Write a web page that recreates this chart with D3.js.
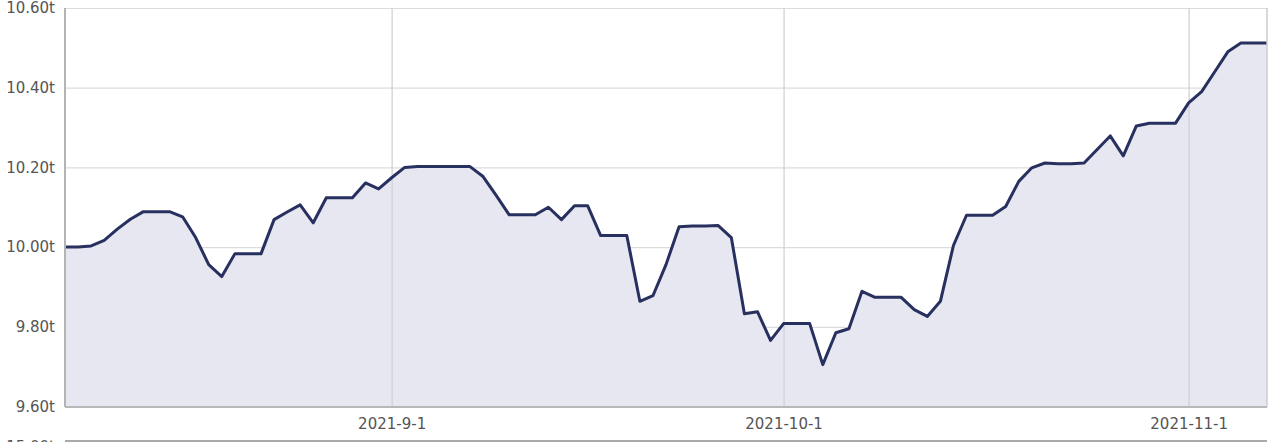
<!DOCTYPE html>
<html>
<head>
<meta charset="utf-8">
<script src="https://cdn.jsdelivr.net/npm/d3@7"></script>
<style>
  body { margin: 0; background: #fff; }
  svg { display: block; font-family: Verdana, "DejaVu Sans", sans-serif; }
</style>
</head>
<body>
<svg width="1280" height="442"></svg>
<script>
// daily values from 2021-8-7 to 2021-11-7
const startDay = '2021-08-07';
const endDay = '2021-11-08';
const values = [
  10.000, 10.000, 10.003, 10.017, 10.045, 10.070, 10.089, 10.089, 10.089, 10.076,
  10.024, 9.956, 9.926, 9.983, 9.983, 9.983, 10.069, 10.088, 10.106, 10.061,
  10.124, 10.124, 10.124, 10.161, 10.146, 10.174, 10.200, 10.202, 10.202, 10.202,
  10.202, 10.202, 10.177, 10.130, 10.081, 10.081, 10.081, 10.100, 10.069, 10.104,
  10.104, 10.029, 10.029, 10.029, 9.864, 9.878, 9.956, 10.051, 10.053, 10.053,
  10.054, 10.024, 9.833, 9.838, 9.766, 9.808, 9.808, 9.808, 9.705, 9.785,
  9.795, 9.889, 9.874, 9.874, 9.874, 9.843, 9.826, 9.864, 10.004, 10.080,
  10.080, 10.080, 10.102, 10.165, 10.199, 10.211, 10.209, 10.209, 10.211, 10.245,
  10.279, 10.229, 10.304, 10.311, 10.311, 10.311, 10.362, 10.390, 10.440, 10.490,
  10.512, 10.512, 10.512
];
const yTicks = [9.6, 9.8, 10.0, 10.2, 10.4, 10.6];
const xTicks = ['2021-09-01', '2021-10-01', '2021-11-01'];
const nextChartLabel = '15.00t';

const parse = d3.timeParse('%Y-%m-%d');
const days = d3.timeDay.range(parse(startDay), parse(endDay));
const data = days.map((d, i) => ({ date: d, value: values[i] }));

const svg = d3.select('svg');
const margin = { top: 8, right: 13, bottom: 35, left: 65 };
const width = +svg.attr('width') - margin.left - margin.right;
const height = +svg.attr('height') - margin.top - margin.bottom;

const x = d3.scaleTime().domain(d3.extent(days)).range([0, width]);
const y = d3.scaleLinear().domain([9.6, 10.6]).range([height - 0.5, 0]);

const g = svg.append('g').attr('transform', `translate(${margin.left},${margin.top})`);

// horizontal grid
g.append('g')
  .call(d3.axisLeft(y).tickValues(yTicks).tickSize(-width).tickFormat(''))
  .call(a => a.select('.domain').remove())
  .call(a => a.selectAll('line').attr('stroke', '#dcdcdc').attr('stroke-width', 1.2));

// area + line
const area = d3.area().x(d => x(d.date)).y0(y(9.6)).y1(d => y(d.value));
g.append('path').datum(data).attr('d', area).attr('fill', '#e6e7f1');

// vertical grid (month ticks)
g.append('g')
  .attr('transform', `translate(0,${height})`)
  .call(d3.axisBottom(x).tickValues(xTicks.map(parse)).tickSize(-height).tickFormat(''))
  .call(a => a.select('.domain').remove())
  .call(a => a.selectAll('line').attr('stroke', '#cfcfd4').attr('stroke-width', 1.2));

const line = d3.line().x(d => x(d.date)).y(d => y(d.value));
g.append('path').datum(data).attr('d', line)
  .attr('fill', 'none')
  .attr('stroke', '#27305f')
  .attr('stroke-width', 3)
  .attr('stroke-linejoin', 'round');

// frame
g.append('line').attr('x1', 0).attr('x2', 0).attr('y1', 0).attr('y2', height)
  .attr('stroke', '#b4b4b4').attr('stroke-width', 2);
g.append('line').attr('x1', width).attr('x2', width).attr('y1', 0).attr('y2', height)
  .attr('stroke', '#cccccc').attr('stroke-width', 1.5);
g.append('line').attr('x1', 0).attr('x2', width).attr('y1', height).attr('y2', height)
  .attr('stroke', '#b8b8b8').attr('stroke-width', 2);

// y labels
const yAxis = g.append('g')
  .call(d3.axisLeft(y).tickValues(yTicks).tickSize(0).tickPadding(10)
    .tickFormat(d => d3.format('.2f')(d) + 't'));
yAxis.select('.domain').remove();
yAxis.selectAll('text').attr('fill', '#555').style('font-size', '15px')
  .style('font-family', 'Verdana, "DejaVu Sans", sans-serif');

// x labels
const xAxis = g.append('g')
  .attr('transform', `translate(0,${height})`)
  .call(d3.axisBottom(x).tickValues(xTicks.map(parse)).tickSize(0).tickPadding(11)
    .tickFormat(d3.timeFormat('%Y-%-m-%-d')));
xAxis.select('.domain').remove();
xAxis.selectAll('text').attr('fill', '#555').style('font-size', '15px')
  .style('font-family', 'Verdana, "DejaVu Sans", sans-serif');

// top of next chart, cut off by the window
svg.append('line').attr('x1', margin.left).attr('x2', margin.left + width)
  .attr('y1', 441).attr('y2', 441).attr('stroke', '#aaa').attr('stroke-width', 2);
svg.append('text').attr('x', margin.left - 10).attr('y', 452)
  .attr('text-anchor', 'end').attr('fill', '#555').style('font-size', '15px')
  .text(nextChartLabel);
</script>
</body>
</html>
